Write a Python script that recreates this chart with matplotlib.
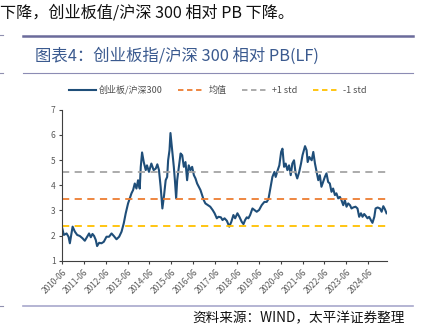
import matplotlib
matplotlib.use("Agg")
import matplotlib.pyplot as plt
from matplotlib.lines import Line2D
import pandas as pd

plt.rcParams['font.family'] = ['Noto Sans CJK SC', 'DejaVu Sans']

# 创业板/沪深300 相对PB(LF)
dates = [
    "2010-06-01", "2010-07-04", "2010-08-18", "2010-09-20", "2010-10-12", "2010-11-10",
    "2010-11-27", "2011-01-04", "2011-02-12", "2011-03-27", "2011-05-11", "2011-06-19",
    "2011-07-27", "2011-08-29", "2011-09-27", "2011-10-25", "2011-11-21", "2011-12-19",
    "2012-01-10", "2012-02-13", "2012-03-23", "2012-05-01", "2012-06-15", "2012-07-28",
    "2012-09-07", "2012-10-15", "2012-11-29", "2013-01-12", "2013-02-21", "2013-03-30",
    "2013-05-02", "2013-06-10", "2013-07-08", "2013-08-06", "2013-09-02", "2013-09-30",
    "2013-10-28", "2013-11-24", "2013-12-22", "2014-01-08", "2014-01-30", "2014-02-27",
    "2014-04-01", "2014-04-22", "2014-05-25", "2014-07-04", "2014-08-11", "2014-09-15",
    "2014-10-12", "2014-11-08", "2014-12-06", "2015-01-04", "2015-02-01", "2015-02-28",
    "2015-03-25", "2015-04-10", "2015-05-03", "2015-05-19", "2015-06-06", "2015-06-28",
    "2015-07-14", "2015-08-01", "2015-08-22", "2015-09-08", "2015-10-06", "2015-11-04",
    "2015-12-01", "2015-12-28", "2016-01-25", "2016-02-21", "2016-03-19", "2016-04-17",
    "2016-05-15", "2016-06-13", "2016-07-10", "2016-08-06", "2016-09-03", "2016-10-01",
    "2016-10-28", "2016-11-25", "2016-12-22", "2017-02-03", "2017-03-13", "2017-04-22",
    "2017-05-25", "2017-07-01", "2017-07-29", "2017-09-07", "2017-10-04", "2017-11-07",
    "2017-12-16", "2018-01-25", "2018-02-28", "2018-04-04", "2018-05-03", "2018-06-10",
    "2018-07-13", "2018-08-21", "2018-09-19", "2018-10-16", "2018-11-13", "2018-12-10",
    "2019-01-08", "2019-02-16", "2019-03-20", "2019-04-28", "2019-06-07", "2019-07-20",
    "2019-09-03", "2019-10-12", "2019-11-10", "2019-12-07", "2020-01-15", "2020-02-18",
    "2020-03-10", "2020-04-13", "2020-05-10", "2020-06-09", "2020-07-01", "2020-07-28",
    "2020-08-24", "2020-09-21", "2020-10-19", "2020-11-16", "2020-12-13", "2021-01-10",
    "2021-02-06", "2021-03-05", "2021-04-07", "2021-05-07", "2021-06-01", "2021-07-13",
    "2021-08-08", "2021-08-26", "2021-09-22", "2021-11-01", "2021-11-28", "2021-12-26",
    "2022-01-22", "2022-02-19", "2022-03-17", "2022-04-13", "2022-05-11", "2022-06-09",
    "2022-07-06", "2022-08-03", "2022-08-31", "2022-09-28", "2022-10-25", "2022-11-24",
    "2022-12-19", "2023-01-18", "2023-02-15", "2023-03-13", "2023-04-12", "2023-05-09",
    "2023-06-06", "2023-07-04", "2023-08-03", "2023-08-28", "2023-09-25", "2023-11-03",
    "2023-12-06", "2024-01-03", "2024-02-02", "2024-02-28", "2024-03-27", "2024-04-24",
    "2024-05-21", "2024-06-18", "2024-07-16", "2024-08-12", "2024-09-12", "2024-10-03",
    "2024-11-06", "2024-12-15", "2025-01-12", "2025-02-09", "2025-03-08", "2025-04-04",
]
ratio = [
    2.35, 2.03, 2.09, 1.96, 1.70, 2.10,
    2.36, 2.16, 2.03, 1.99, 1.90, 1.80,
    1.96, 2.09, 1.94, 2.07, 1.99, 1.83,
    1.59, 1.72, 1.70, 1.76, 1.96, 1.96,
    2.09, 1.99, 1.86, 1.96, 2.16, 2.49,
    2.89, 3.28, 3.48, 3.68, 3.81, 4.07,
    3.87, 4.20, 3.87, 4.73, 5.30, 4.92,
    4.60, 4.79, 4.53, 4.86, 4.60, 4.66,
    4.83, 4.60, 3.94, 3.08, 3.60, 4.20,
    4.33, 4.99, 5.39, 6.07, 5.65, 5.12,
    4.73, 4.20, 3.48, 4.20, 4.73, 5.26,
    5.19, 4.73, 4.92, 4.20, 4.79, 4.60,
    4.73, 4.40, 4.27, 4.07, 3.94, 3.81,
    3.61, 3.41, 3.28, 3.21, 3.15, 3.02,
    2.89, 2.69, 2.75, 2.73, 2.62, 2.69,
    2.59, 2.36, 2.55, 2.82, 2.69, 2.89,
    2.75, 2.55, 2.46, 2.62, 2.73, 2.69,
    2.82, 3.08, 3.02, 2.95, 3.02, 3.21,
    3.34, 3.34, 3.45, 3.81, 4.33, 4.53,
    4.33, 4.60, 4.79, 5.32, 5.45, 4.73,
    4.86, 4.60, 4.79, 4.40, 4.86, 4.99,
    4.47, 4.27, 4.53, 4.86, 5.19, 5.55,
    5.39, 4.92, 5.12, 4.99, 5.32, 4.86,
    4.53, 4.20, 4.40, 3.94, 4.13, 4.33,
    4.47, 4.13, 4.07, 3.74, 3.87, 3.61,
    3.68, 3.48, 3.54, 3.41, 3.21, 3.41,
    3.15, 3.28, 3.21, 3.08, 3.12, 3.15,
    3.08, 2.75, 2.89, 2.75, 2.86, 2.78,
    2.69, 2.75, 2.62, 2.51, 2.75, 3.08,
    3.12, 3.08, 2.95, 3.17, 3.05, 2.89,
]
mean_val = 3.46
plus_std = 4.53
minus_std = 2.39

tick_labels = [f"{y}-06" for y in range(2010, 2025)]
legend_labels = ["创业板/沪深300", "均值", "+1 std", "-1 std"]

x = pd.to_datetime(dates)
c_line = "#1F4E79"
c_mean = "#ED7D31"
c_plus = "#A5A5A5"
c_minus = "#FFC000"

fig = plt.figure(figsize=(4.21, 3.32), dpi=100)
ax = fig.add_axes([0.147, 0.214, 0.772, 0.456])

ax.plot(x, ratio, color=c_line, lw=1.5)
for val, col in [(mean_val, c_mean), (plus_std, c_plus), (minus_std, c_minus)]:
    ax.plot([x[0], x[-1]], [val, val], color=col, lw=1.3, dashes=(4, 3))

ax.set_ylim(1, 7)
ax.set_yticks(range(1, 8))
ax.set_xlim(pd.Timestamp("2010-06-01"), pd.Timestamp("2025-04-10"))
ax.set_xticks(pd.to_datetime(tick_labels))
ax.set_xticklabels(tick_labels, rotation=45, ha="right", rotation_mode="anchor")
ax.tick_params(axis="both", labelsize=6, colors="#404040", labelcolor="#595959",
               length=2.5, width=0.8, pad=2)
for s in ["top", "right"]:
    ax.spines[s].set_visible(False)
ax.spines["left"].set_color("#404040")
ax.spines["bottom"].set_color("#404040")

handles = [
    Line2D([], [], color=c_line, lw=1.5),
    Line2D([], [], color=c_mean, lw=1.3, dashes=(3, 2)),
    Line2D([], [], color=c_plus, lw=1.3, dashes=(3, 2)),
    Line2D([], [], color=c_minus, lw=1.3, dashes=(3, 2)),
]
fig.legend(handles, legend_labels, loc="center", bbox_to_anchor=(0.517, 0.729),
           ncol=4, frameon=False, fontsize=6.5, handlelength=3.0, handletextpad=0.35,
           columnspacing=1.7, labelcolor="#505050")

# page header / footer
fig.text(0.0, 1 - 13 / 332, "下降，创业板值/沪深 300 相对 PB 下降。", fontsize=11.6,
         va="center", ha="left", color="#111111")
fig.add_artist(Line2D([23 / 421, 413 / 421], [1 - 36 / 332] * 2, color="#6B6B9B", lw=1.8))
fig.text(35 / 421, 1 - 56 / 332, "图表4：创业板指/沪深 300 相对 PB(LF)", fontsize=11.8,
         va="center", ha="left", color="#3B5A8F")
fig.add_artist(Line2D([23 / 421, 413 / 421], [1 - 73 / 332] * 2, color="#8C8CB4", lw=0.8))
fig.add_artist(Line2D([23 / 421, 413 / 421], [1 - 306 / 332] * 2, color="#A8A8CC", lw=1.2))
fig.text(405 / 421, 1 - 318 / 332, "资料来源：WIND，太平洋证券整理", fontsize=9.8,
         va="center", ha="right", color="#111111", style="italic")
for yy in (35, 73, 306):
    fig.add_artist(Line2D([0, 3 / 421], [1 - yy / 332] * 2, color="#9090B0", lw=0.8))

fig.savefig("out.png", dpi=100)
